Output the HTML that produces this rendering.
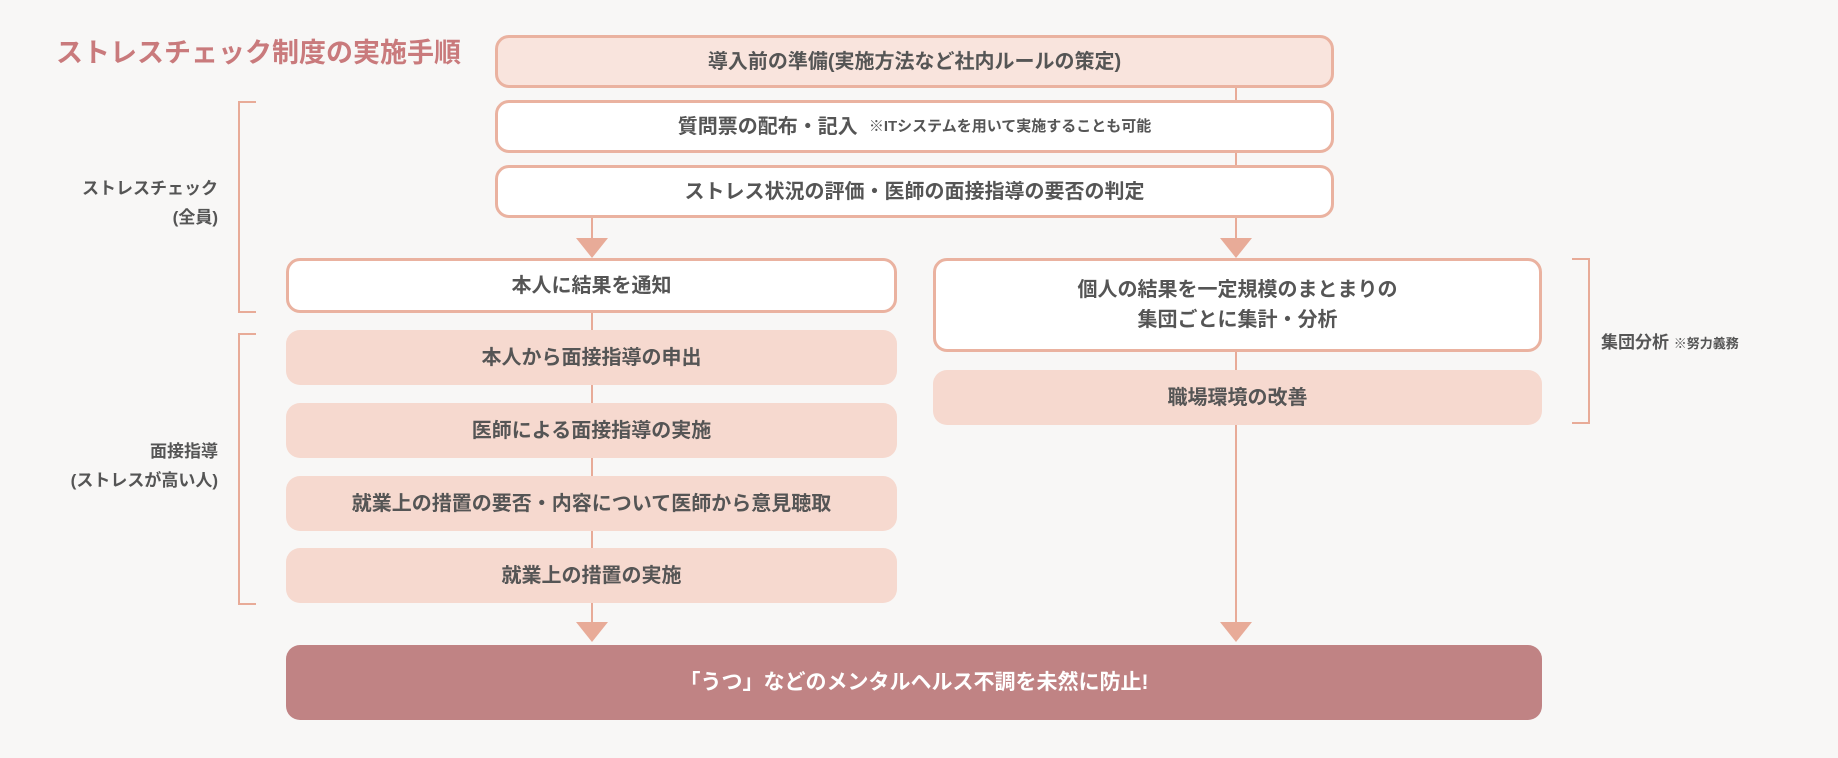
<!DOCTYPE html>
<html><head><meta charset="utf-8"><style>
body{margin:0;width:1838px;height:758px;background:#f8f7f6;position:relative;overflow:hidden;font-family:"Liberation Sans","Noto Sans CJK JP",sans-serif;font-weight:bold;color:#555}
.b{position:absolute;box-sizing:border-box;border-radius:14px;display:flex;align-items:center;justify-content:center;text-align:center;font-size:20px;line-height:30px}
.w{background:#fff;border:3px solid #eab2a0}
.p{background:#f9e4dd;border:3px solid #eab2a0}
.f{background:#f6d9cf}
.l{position:absolute;background:#e8ab98}
.a{position:absolute;width:0;height:0;border-left:16px solid transparent;border-right:16px solid transparent;border-top:20px solid #e8ab98}
.t{position:absolute;font-size:17px;line-height:29px;text-align:right;color:#555}
</style></head><body>
<div style="position:absolute;left:56px;top:31px;font-size:27px;color:#c97a7c">ストレスチェック制度の実施手順</div>

<div class="l" style="left:1235px;top:85px;width:2px;height:85px"></div>
<div class="l" style="left:591px;top:215px;width:2px;height:25px"></div>
<div class="l" style="left:1235px;top:215px;width:2px;height:25px"></div>
<div class="a" style="left:576px;top:238px"></div>
<div class="a" style="left:1220px;top:238px"></div>
<div class="l" style="left:591px;top:310px;width:2px;height:315px"></div>
<div class="l" style="left:1235px;top:350px;width:2px;height:275px"></div>
<div class="a" style="left:576px;top:622px"></div>
<div class="a" style="left:1220px;top:622px"></div>

<div class="b p" style="left:495px;top:35px;width:839px;height:53px">導入前の準備(実施方法など社内ルールの策定)</div>
<div class="b w" style="left:495px;top:100px;width:839px;height:53px">質問票の配布・記入&nbsp;&nbsp;<span style="font-size:15px">※ITシステムを用いて実施することも可能</span></div>
<div class="b w" style="left:495px;top:165px;width:839px;height:53px">ストレス状況の評価・医師の面接指導の要否の判定</div>

<div class="b w" style="left:286px;top:258px;width:611px;height:55px">本人に結果を通知</div>
<div class="b f" style="left:286px;top:330px;width:611px;height:55px">本人から面接指導の申出</div>
<div class="b f" style="left:286px;top:403px;width:611px;height:55px">医師による面接指導の実施</div>
<div class="b f" style="left:286px;top:476px;width:611px;height:55px">就業上の措置の要否・内容について医師から意見聴取</div>
<div class="b f" style="left:286px;top:548px;width:611px;height:55px">就業上の措置の実施</div>

<div class="b w" style="left:933px;top:258px;width:609px;height:94px">個人の結果を一定規模のまとまりの<br>集団ごとに集計・分析</div>
<div class="b f" style="left:933px;top:370px;width:609px;height:55px">職場環境の改善</div>

<div class="b" style="left:286px;top:645px;width:1256px;height:75px;background:#c08384;color:#fff;font-size:21px">「うつ」などのメンタルヘルス不調を未然に防止!</div>

<div class="l" style="left:238px;top:101px;width:2px;height:212px"></div>
<div class="l" style="left:238px;top:101px;width:18px;height:2px"></div>
<div class="l" style="left:238px;top:311px;width:18px;height:2px"></div>
<div class="l" style="left:238px;top:333px;width:2px;height:272px"></div>
<div class="l" style="left:238px;top:333px;width:18px;height:2px"></div>
<div class="l" style="left:238px;top:603px;width:18px;height:2px"></div>
<div class="l" style="left:1588px;top:258px;width:2px;height:166px"></div>
<div class="l" style="left:1572px;top:258px;width:18px;height:2px"></div>
<div class="l" style="left:1572px;top:422px;width:18px;height:2px"></div>

<div class="t" style="right:1620px;top:174px">ストレスチェック<br>(全員)</div>
<div class="t" style="right:1620px;top:437px">面接指導<br>(ストレスが高い人)</div>
<div class="t" style="left:1601px;top:328px;text-align:left">集団分析 <span style="font-size:13px">※努力義務</span></div>
</body></html>
